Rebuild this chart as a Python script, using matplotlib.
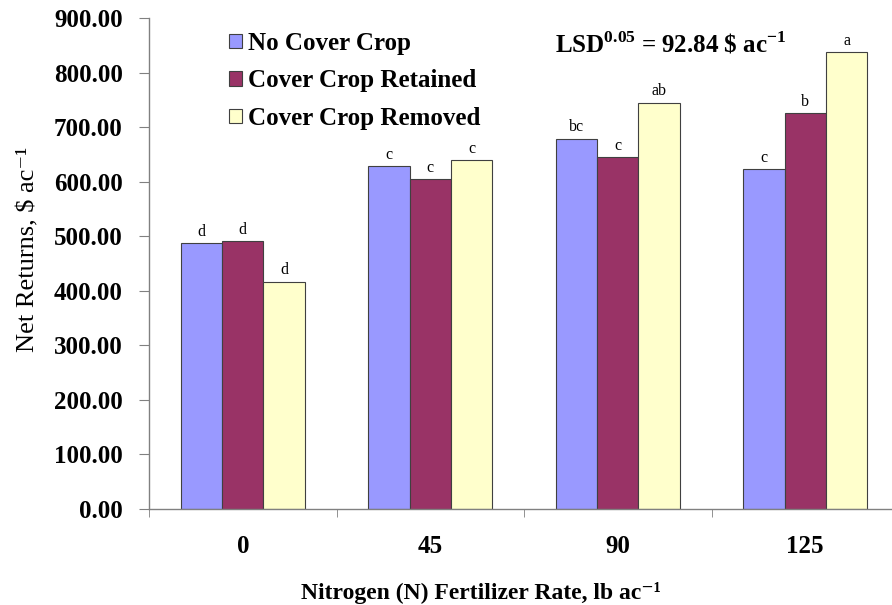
import numpy as np
import matplotlib.pyplot as plt

plt.rcParams["font.family"] = ["Liberation Serif", "DejaVu Serif"]
plt.rcParams["mathtext.fontset"] = "custom"
plt.rcParams["mathtext.rm"] = "Liberation Serif"
plt.rcParams["mathtext.bf"] = "Liberation Serif:bold"

n_rates = ["0", "45", "90", "125"]
series_names = ["No Cover Crop", "Cover Crop Retained", "Cover Crop Removed"]
no_cover = [487, 628, 679, 623]
cc_retained = [491, 604, 645, 725]
cc_removed = [417, 639, 745, 838]
letters_no_cover = ["d", "c", "bc", "c"]
letters_retained = ["d", "c", "c", "b"]
letters_removed = ["d", "c", "ab", "a"]
y_ticks = [0, 100, 200, 300, 400, 500, 600, 700, 800, 900]

colors = ["#9999ff", "#993366", "#ffffcc"]
values = [no_cover, cc_retained, cc_removed]
letters = [letters_no_cover, letters_retained, letters_removed]

W, H = 892, 605
fig = plt.figure(figsize=(W / 100, H / 100), dpi=100)
ax = fig.add_axes([149 / W, (H - 509) / H, 750 / W, (509 - 18) / H])

x = np.arange(len(n_rates))
bw = 0.221
for k in range(3):
    ax.bar(x + (k - 1) * bw, values[k], width=bw, color=colors[k],
           edgecolor="#404040", linewidth=0.8, label=series_names[k])
    for xi, v, lab in zip(x + (k - 1) * bw, values[k], letters[k]):
        ax.text(xi, v + 6, lab, ha="center", va="bottom", fontsize=11.5)

ax.set_xlim(-0.5, len(n_rates) - 0.5)
ax.set_ylim(0, 900)
ax.set_yticks(y_ticks)
ax.set_yticklabels([f"{v:.2f}" for v in y_ticks], fontsize=18, fontweight="bold")
ax.set_xticks(x)
ax.set_xticklabels(n_rates, fontsize=18, fontweight="bold")
ax.set_xticks(np.arange(-0.5, len(n_rates), 1.0), minor=True)
ax.tick_params(axis="x", which="major", length=0, pad=19)
ax.tick_params(axis="x", which="minor", length=6, direction="out", color="#808080")
ax.tick_params(axis="y", length=7, direction="out", color="#808080", pad=12)

for s in ["top", "right"]:
    ax.spines[s].set_visible(False)
for s in ["left", "bottom"]:
    ax.spines[s].set_color("#808080")
    ax.spines[s].set_linewidth(1.0)

sup_m1 = "\u207b\u00b9"
fig.text(28 / W, 1 - 249 / H, "Net Returns, $ ac" + sup_m1, rotation=90,
         ha="center", va="center", fontsize=19)
fig.text(481 / W, 1 - 599 / H, "Nitrogen (N) Fertilizer Rate, lb ac" + sup_m1,
         ha="center", va="baseline", fontsize=17, fontweight="bold")
fig.text(555 / W, 1 - 44 / H, r"LSD$^{\mathbf{0.05}}$ = 92.84 \$ ac$^{\mathbf{-1}}$",
         ha="left", va="center", fontsize=18, fontweight="bold")

ax.legend(loc="upper left", bbox_to_anchor=(229 / W, 1 - 32 / H),
          bbox_transform=fig.transFigure, frameon=False,
          prop={"size": 18, "weight": "bold"},
          handlelength=0.5, handleheight=0.5, handletextpad=0.27,
          labelspacing=0.57, borderaxespad=0, borderpad=0)

fig.savefig("out.png", dpi=100)
